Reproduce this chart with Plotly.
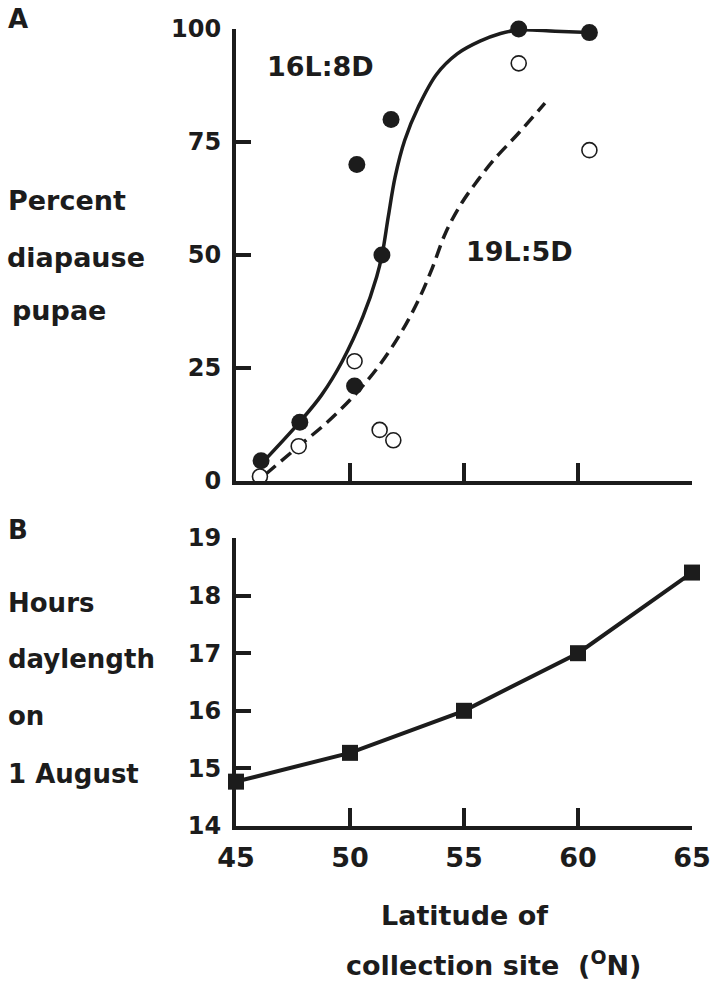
import plotly.graph_objects as go

# ---------------- data ----------------
# Panel A: percent diapause pupae vs latitude
lat_16L8D = [46.1, 47.8, 50.2, 50.3, 51.4, 51.8, 57.4, 60.5]
pct_16L8D = [4.5, 13.0, 21.0, 70.0, 50.0, 80.0, 100.0, 99.2]

lat_19L5D = [46.05, 47.75, 50.2, 51.3, 51.9, 57.4, 60.5]
pct_19L5D = [1.0, 7.7, 26.5, 11.3, 9.0, 92.4, 73.2]

# fitted curves
curve16_lat = [46.2, 47.8, 48.75, 49.66, 50.57, 51.17, 51.42, 51.68, 51.98, 52.4, 53.0,
               53.8, 54.7, 55.7, 56.6, 57.4, 59.0, 60.5]
curve16_pct = [4.3, 13.1, 19.0, 26.5, 36.4, 45.2, 50.4, 58.5, 67.3, 75.4, 82.8,
               90.0, 94.5, 97.3, 99.0, 99.8, 99.5, 99.2]

curve19_lat = [46.3, 47.75, 49.0, 50.2, 51.2, 52.2, 53.0, 53.6, 54.2, 54.9, 55.6, 56.3, 57.4, 58.55]
curve19_pct = [1.5, 7.7, 13.0, 19.0, 25.0, 32.5, 40.0, 47.0, 55.0, 61.5, 66.5, 71.0, 77.0, 83.6]

# Panel B: hours daylength on 1 August
lat_B = [45, 50, 55, 60, 65]
hours_B = [14.77, 15.27, 16.0, 17.0, 18.4]

xticks = [45, 50, 55, 60, 65]
yticks_A = [0, 25, 50, 75, 100]
yticks_B = [14, 15, 16, 17, 18, 19]

# ---------------- figure ----------------
W, H = 716, 990
INK = "#1c1c1c"
FONT = "DejaVu Sans"


def px(x):
    return x / W


def py(y):
    return 1 - y / H


fig = go.Figure()

fig.add_trace(go.Scatter(x=curve16_lat, y=curve16_pct, mode="lines",
                         line=dict(color=INK, width=3.5, shape="spline", smoothing=1.0),
                         xaxis="x", yaxis="y", hoverinfo="skip"))
fig.add_trace(go.Scatter(x=curve19_lat, y=curve19_pct, mode="lines",
                         line=dict(color=INK, width=3.5, shape="spline", smoothing=1.0,
                                   dash="13px,7px"),
                         xaxis="x", yaxis="y", hoverinfo="skip"))
fig.add_trace(go.Scatter(x=lat_19L5D, y=pct_19L5D, mode="markers",
                         marker=dict(symbol="circle", size=15, color="white",
                                     line=dict(color=INK, width=1.6)),
                         cliponaxis=False, xaxis="x", yaxis="y"))
fig.add_trace(go.Scatter(x=lat_16L8D, y=pct_16L8D, mode="markers",
                         marker=dict(symbol="circle", size=17, color=INK,
                                     line=dict(color=INK, width=0)),
                         cliponaxis=False, xaxis="x", yaxis="y"))

fig.add_trace(go.Scatter(x=lat_B, y=hours_B, mode="lines+markers",
                         line=dict(color=INK, width=4),
                         marker=dict(symbol="square", size=16, color=INK),
                         cliponaxis=False, xaxis="x2", yaxis="y2"))

xdom = [px(236), px(692)]
axis_common = dict(showline=True, linecolor=INK, linewidth=4, ticks="inside",
                   tickcolor=INK, tickwidth=4, showgrid=False, zeroline=False,
                   fixedrange=True, automargin=False)

fig.update_layout(
    width=W, height=H,
    margin=dict(l=0, r=0, t=0, b=0),
    paper_bgcolor="white", plot_bgcolor="white",
    showlegend=False,
    font=dict(family=FONT, color=INK),
    xaxis=dict(domain=xdom, anchor="y", range=[45, 65], tickvals=xticks,
               showticklabels=False, ticklen=18, **axis_common),
    yaxis=dict(domain=[py(481), py(29)], anchor="x", range=[0, 100],
               tickvals=yticks_A, ticktext=[str(v) for v in yticks_A], ticklen=15,
               tickfont=dict(family=FONT, size=24, color=INK, weight="bold"),
               ticklabelstandoff=6, **axis_common),
    xaxis2=dict(domain=xdom, anchor="y2", range=[45, 65], tickvals=xticks,
                ticktext=[str(v) for v in xticks], ticklen=18,
                tickfont=dict(family=FONT, size=27, color=INK, weight="bold"),
                ticklabelstandoff=5, **axis_common),
    yaxis2=dict(domain=[py(826), py(538)], anchor="x2", range=[14, 19],
                tickvals=yticks_B, ticktext=[str(v) for v in yticks_B], ticklen=15,
                tickfont=dict(family=FONT, size=24, color=INK, weight="bold"),
                ticklabelstandoff=6, **axis_common),
)


def label(text, x, y, size=26, xanchor="left"):
    fig.add_annotation(text=text, x=px(x), y=py(y), xref="paper", yref="paper",
                       xanchor=xanchor, yanchor="middle", showarrow=False,
                       font=dict(family=FONT, size=size, color=INK, weight="bold"))


label("A", 6, 19, size=26)
label("B", 6, 530, size=26)
label("16L:8D", 320, 67, size=27, xanchor="center")
label("19L:5D", 519, 252, size=27, xanchor="center")
label("Percent", 6, 201, size=27)
label("diapause", 5, 257, size=27)
label("pupae", 10, 310, size=27)
label("Hours", 6, 603)
label("daylength", 6, 659)
label("on", 6, 716)
label("1 August", 6, 774)
label("Latitude of", 464, 915, size=27, xanchor="center")
label("collection site&nbsp;&nbsp;(<sup>O</sup>N)", 493, 963, size=27, xanchor="center")

fig.write_html("out.html")
